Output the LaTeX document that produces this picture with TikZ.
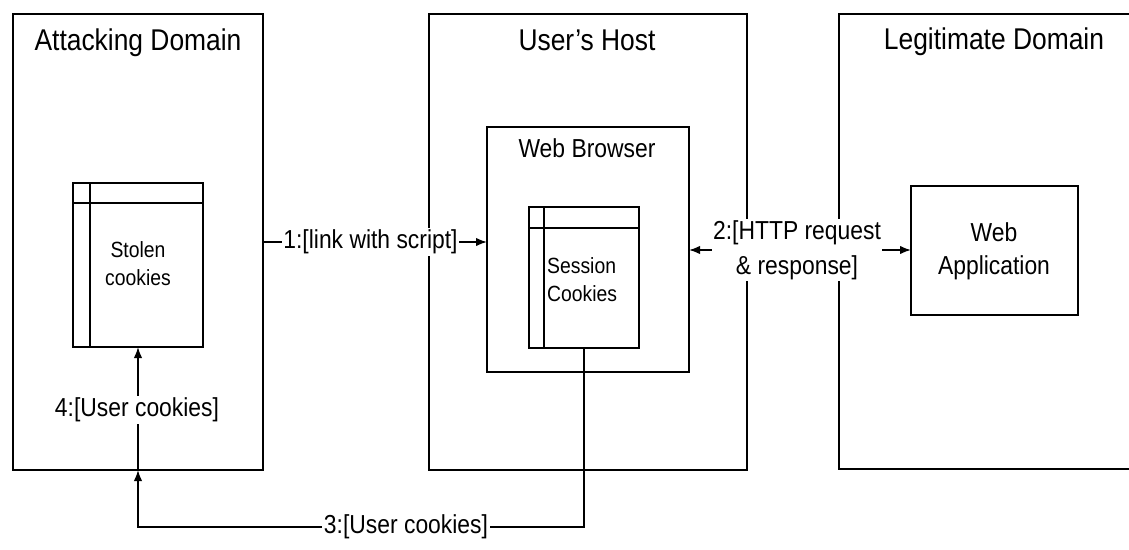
\documentclass[tikz,border=0pt]{standalone}
\usepackage{fontspec}
\setmainfont{Liberation Sans}[FakeStretch=0.88]
\usetikzlibrary{arrows.meta,calc}
\begin{document}
\begin{tikzpicture}[x=1pt,y=-1pt,
  box/.style={draw=black,line width=1.8pt,inner sep=0pt,outer sep=0pt,rectangle},
  thin/.style={draw=black,line width=1.4pt},
  conn/.style={draw=black,line width=1.7pt},
  tip/.style={},
  arr/.style={conn,-{Latex[length=11pt,width=8.5pt]}},
  title/.style={font=\fontsize{30}{32}\selectfont,anchor=base},
  lbl/.style={font=\fontsize{26}{35}\selectfont,fill=white,inner sep=1.5pt,align=center},
  small/.style={font=\fontsize{22}{28}\selectfont,align=left,inner sep=0pt},
  mid/.style={font=\fontsize{26}{33}\selectfont,align=center,inner sep=0pt}]
\fill[white] (0,0) rectangle (1129,549);
\useasboundingbox (0,0) rectangle (1129,549);
\clip (0,0) rectangle (1129,549);
% outer domains
\node[box,minimum width=250pt,minimum height=456pt] (ad) at (138,242) {};
\node[box,minimum width=318pt,minimum height=456pt] (uh) at (588,242) {};
\node[box,minimum width=321pt,minimum height=455pt] (ld) at (999.5,241.5) {};
\node[title] (tad) at (138,50) {Attacking Domain};
\node[title] (tuh) at (587,50) {User's Host};
\node[title] (tld) at (994,49) {Legitimate Domain};
% web browser
\node[box,minimum width=202pt,minimum height=245pt] (wb) at (588,249.5) {};
\node[font=\fontsize{26}{30}\selectfont,anchor=base] (twb) at (587,157) {Web Browser};
% session cookies
\node[box,line width=1.6pt,minimum width=110pt,minimum height=141pt] (sc) at (584,277.5) {};
\draw[thin] ($(sc.north west)+(15,0)$) -- ($(sc.south west)+(15,0)$);
\draw[thin] ($(sc.north west)+(0,21)$) -- ($(sc.north east)+(0,21)$);
\node[small,anchor=west] (tsc) at (547,280) {Session\\Cookies};
% stolen cookies
\node[box,line width=1.6pt,minimum width=130pt,minimum height=164pt] (sb) at (138,265) {};
\draw[thin] ($(sb.north west)+(17,0)$) -- ($(sb.south west)+(17,0)$);
\draw[thin] ($(sb.north west)+(0,20)$) -- ($(sb.north east)+(0,20)$);
\node[small,align=center] (tsb) at (138,264) {Stolen\\cookies};
% web application
\node[box,minimum width=167pt,minimum height=129pt] (wa) at (994.5,250.5) {};
\node[mid] (twa) at (994,251) {Web\\Application};
% connectors
\draw[arr] (ad.east |- 0,242) -- (wb.west |- 0,242);
\node[lbl] (l1) at (370.5,242) {1:[link with script]};
\draw[conn,{Latex[length=11pt,width=8.5pt]}-{Latex[length=11pt,width=8.5pt]}] (wb.east |- 0,250) -- (wa.west |- 0,250);
\node[lbl] (l2) at (797,250) {2:[HTTP request\\\& response]};
\coordinate (c3) at (sc.south |- 0,527);
\draw[arr] (sc.south) -- (c3) -| (ad.south);
\node[lbl] (l3) at (406,527) {3:[User cookies]};
\draw[arr] (ad.south) -- (sb.south);
\node[lbl] (l4) at (137,410) {4:[User cookies]};
\end{tikzpicture}
\end{document}
